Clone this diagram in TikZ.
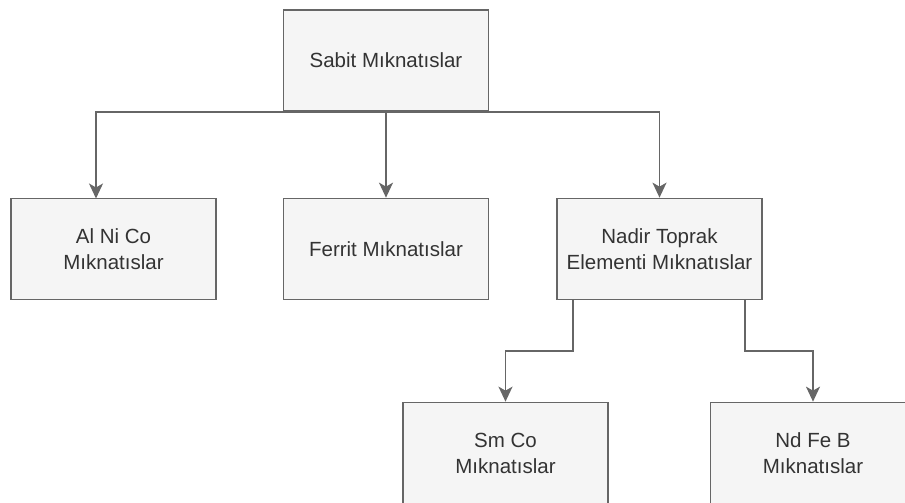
\documentclass[tikz,border=0pt]{standalone}
\usepackage{fontspec}
\setmainfont{Liberation Sans}
\usetikzlibrary{arrows.meta}
\definecolor{boxfill}{HTML}{F5F5F5}
\definecolor{boxline}{HTML}{666666}
\definecolor{txt}{HTML}{333333}
\begin{document}
\begin{tikzpicture}[x=1pt,y=-1pt,
  box/.style={draw=boxline,fill=boxfill,line width=1.7pt,minimum width=205pt,minimum height=101pt,
    inner sep=0pt,align=center,text=txt,font=\fontsize{20.5}{26}\selectfont},
  conn/.style={draw=boxline,line width=1.7pt,-{Stealth[length=15pt,width=14pt,inset=4pt]}}]
\useasboundingbox (0,0) rectangle (905,503);
\begin{scope}
\clip (0,0) rectangle (905,503);
\node[box] (top) at (386,60.5) {Sabit Mıknatıslar};
\node[box] (alnico) at (113.5,249) {Al Ni Co\\Mıknatıslar};
\node[box] (ferrit) at (386,249) {Ferrit Mıknatıslar};
\node[box] (nadir) at (659.5,249) {Nadir Toprak\\Elementi Mıknatıslar};
\node[box] (smco) at (505.5,453) {Sm Co\\Mıknatıslar};
\node[box] (ndfeb) at (813,453) {Nd Fe B\\Mıknatıslar};
\coordinate (a1) at (96,198.5);
\draw[conn] (top.south) -- (top.south -| a1) -- (a1);
\draw[conn] (top.south) -- (ferrit.north);
\draw[conn] (top.south) -- (top.south -| nadir.north) -- (nadir.north);
\coordinate (n1) at (573,300);
\coordinate (n2) at (745,300);
\draw[conn] (n1) -- (573,351) -- (smco.north |- 0,351) -- (smco.north);
\draw[conn] (n2) -- (745,351) -- (ndfeb.north |- 0,351) -- (ndfeb.north);
\end{scope}
\end{tikzpicture}
\end{document}
